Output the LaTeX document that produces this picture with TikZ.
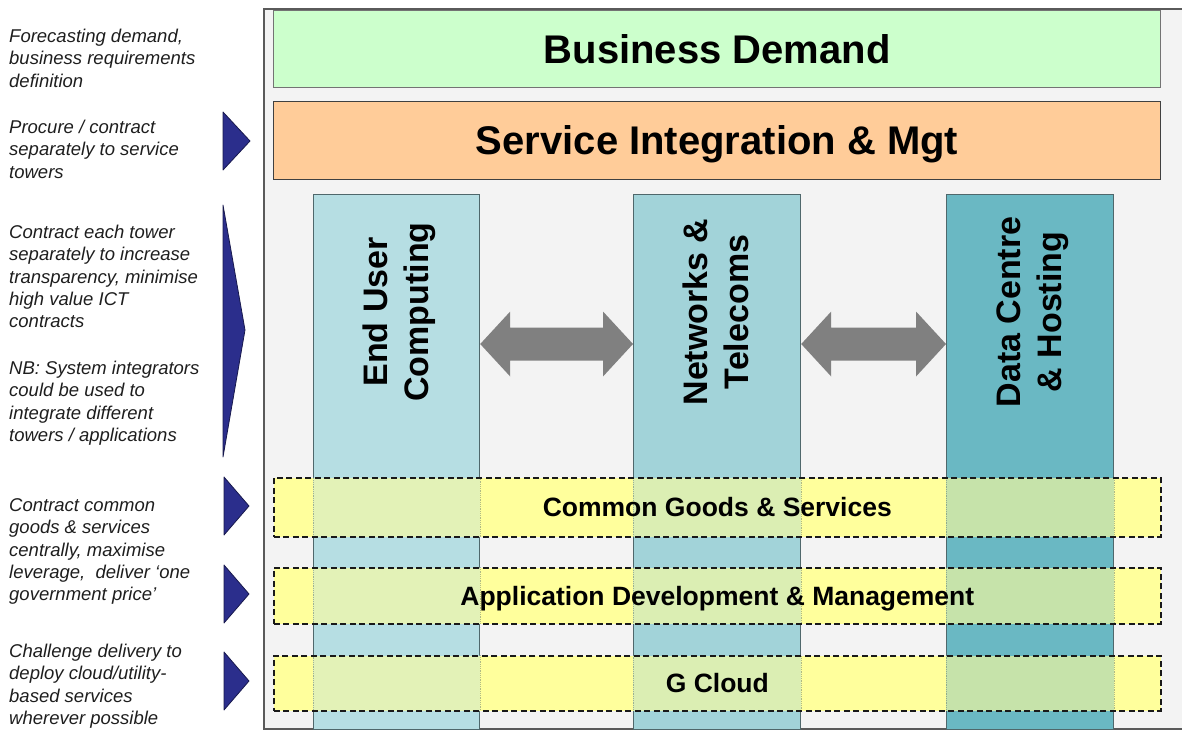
\documentclass[tikz,border=0pt]{standalone}
\usepackage{fontspec}
\setmainfont{Liberation Sans}
\usetikzlibrary{calc}

\definecolor{framebg}{HTML}{F3F3F3}
\definecolor{framedraw}{HTML}{5A5A5A}
\definecolor{demandfill}{HTML}{CCFFCC}
\definecolor{integfill}{HTML}{FFCC99}
\definecolor{eucfill}{HTML}{B6DEE3}
\definecolor{netfill}{HTML}{A2D3D9}
\definecolor{dcfill}{HTML}{6AB8C3}
\definecolor{towerdraw}{HTML}{4F676B}
\definecolor{bandfill}{HTML}{FFFF9C}
\definecolor{pointerblue}{HTML}{2B2E8C}
\definecolor{linkgray}{HTML}{808080}
\definecolor{notetext}{HTML}{1E1E1E}

\begin{document}
\begin{tikzpicture}[x=1pt,y=-1pt,
  bar/.style={draw=#1, line width=1.2pt, anchor=north west, inner sep=0pt,
    minimum width=887pt, font=\bfseries\fontsize{40}{48}\selectfont,
    text height=28.6pt, text depth=0pt},
  tower/.style={draw=towerdraw, line width=1.2pt, anchor=north west,
    inner sep=0pt, minimum height=535pt},
  towerlabel/.style={rotate=90, align=center, inner sep=0pt,
    font=\bfseries\fontsize{34}{41}\selectfont},
  % a tower seen through a band: tinted strip with a faint edge
  tint/.style={fill=#1, fill opacity=0.38, draw=towerdraw, draw opacity=0.45,
    line width=0.8pt, densely dotted},
  band/.style={draw=black!90, dash pattern=on 6pt off 3.5pt,
    line width=1.6pt, fill=bandfill,
    anchor=north west, inner sep=0pt, minimum width=887pt,
    font=\bfseries\fontsize{26.5}{32}\selectfont,
    text height=19pt, text depth=0pt,
    path picture={
      \path[tint=eucfill] (euc.north west) rectangle (euc.south east);
      \path[tint=netfill] (net.north west) rectangle (net.south east);
      \path[tint=dcfill] (dc.north west) rectangle (dc.south east);
    }},
  note/.style={anchor=north west, align=left, inner sep=0pt, text=notetext,
    font=\itshape\fontsize{18.5}{22.4}\selectfont},
  pointer/.style={fill=pointerblue, draw=pointerblue!55!black,
    line width=0.8pt, line join=round},
  link/.style={fill=linkgray}]

\useasboundingbox (0,0) rectangle (1182,731);

% outer frame, open to the right
\draw[framedraw, fill=framebg, line width=1.3pt] (264,9) rectangle (1200,729);

% horizontal layers
\node[bar=black!55, fill=demandfill, minimum height=77pt] (demand) at (273,10) {Business Demand};
\node[bar=black!75, fill=integfill, minimum height=78pt] (integ) at (273,101) {Service Integration \& Mgt};

% service towers
\node[tower, fill=eucfill, minimum width=166pt] (euc) at (313,194) {};
\node[tower, fill=netfill, minimum width=167pt] (net) at (633,194) {};
\node[tower, fill=dcfill, minimum width=167pt] (dc) at (946,194) {};

\node[towerlabel] (euclabel) at ($(euc.north)+(3,118)$) {\strut End User\\\strut Computing};
\node[towerlabel] (netlabel) at ($(net.north)+(3,118)$) {\strut Networks \&\\\strut Telecoms};
\node[towerlabel] (dclabel) at ($(dc.north)+(3,118)$) {\strut Data Centre\\\strut \& Hosting};

% two-way links between towers
\coordinate (linkrow) at (0,344);
\fill[link] let \p1=(euc.east |- linkrow), \p2=(net.west |- linkrow) in
  (\p1) -- (\x1+30pt,\y1+32.5pt) -- (\x1+30pt,\y1+16.5pt) -- (\x2-30pt,\y1+16.5pt)
  -- (\x2-30pt,\y1+32.5pt) -- (\p2) -- (\x2-30pt,\y1-32.5pt) -- (\x2-30pt,\y1-16.5pt)
  -- (\x1+30pt,\y1-16.5pt) -- (\x1+30pt,\y1-32.5pt) -- cycle;
\fill[link] let \p1=(net.east |- linkrow), \p2=(dc.west |- linkrow) in
  (\p1) -- (\x1+30pt,\y1+32.5pt) -- (\x1+30pt,\y1+16.5pt) -- (\x2-30pt,\y1+16.5pt)
  -- (\x2-30pt,\y1+32.5pt) -- (\p2) -- (\x2-30pt,\y1-32.5pt) -- (\x2-30pt,\y1-16.5pt)
  -- (\x1+30pt,\y1-16.5pt) -- (\x1+30pt,\y1-32.5pt) -- cycle;

% cross-cutting bands
\node[band, minimum height=59pt] (common) at (273,477) {Common Goods \& Services};
\node[band, minimum height=56pt] (appdev) at (273,567) {Application Development \& Management};
\node[band, minimum height=55pt] (gcloud) at (273,655) {G Cloud};

% pointers
\draw[pointer] (223,112) -- (250,141) -- (223,170) -- cycle;
\draw[pointer] (223,205) -- (245,330) -- (223,457) -- cycle;
\draw[pointer] (224,477) -- (249,506) -- (224,535) -- cycle;
\draw[pointer] (224,565) -- (249,594) -- (224,623) -- cycle;
\draw[pointer] (224,652) -- (249,681) -- (224,710) -- cycle;

% notes
\node[note] (n1) at (9,26.5) {\strut Forecasting demand,\\business requirements\\definition};
\node[note] (n2) at (9,117.5) {\strut Procure / contract\\separately to service\\towers};
\node[note] (n3) at (9,222.5) {\strut Contract each tower\\separately to increase\\transparency, minimise\\high value ICT\\contracts};
\node[note] (n4) at (9,358.5) {\strut NB: System integrators\\could be used to\\integrate different\\towers / applications};
\node[note] (n5) at (9,495.5) {\strut Contract common\\goods \& services\\centrally, maximise\\leverage,\ \ deliver `one\\government price'};
\node[note] (n6) at (9,641.5) {\strut Challenge delivery to\\deploy cloud/utility-\\based services\\wherever possible};

\end{tikzpicture}
\end{document}
